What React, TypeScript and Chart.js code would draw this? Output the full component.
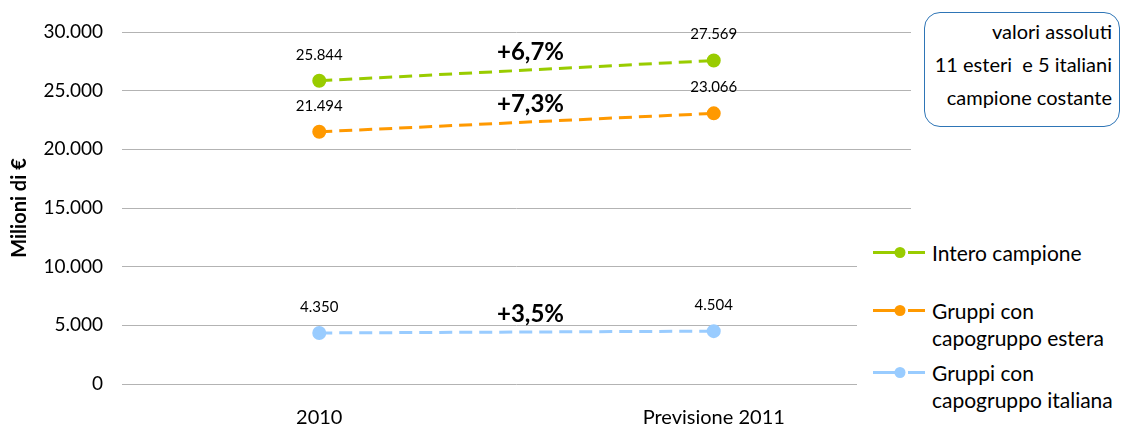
import React, { useEffect, useRef } from "react";
import { Chart, registerables } from "chart.js";

Chart.register(...registerables);

const categories = ["2010", "Previsione 2011"];
const seriesNames = ["Intero campione", "Gruppi con capogruppo estera", "Gruppi con capogruppo italiana"];
const legendLines = [["Intero campione"], ["Gruppi con", "capogruppo estera"], ["Gruppi con", "capogruppo italiana"]];
const interoCampione = [25844, 27569];
const capogruppoEstera = [21494, 23066];
const capogruppoItaliana = [4350, 4504];
const growthLabels = ["+6,7%", "+7,3%", "+3,5%"];
const seriesColors = ["#99cc00", "#ff9900", "#99ccff"];
const yTicks = [0, 5000, 10000, 15000, 20000, 25000, 30000];
const boxLines = ["valori assoluti", "11 esteri  e 5 italiani", "campione costante"];

const FONT = "Lato, 'Open Sans', sans-serif";

const fmt = (n: number) => String(Math.round(n)).replace(/\B(?=(\d{3})+(?!\d))/g, ".");

const labelPlugin = {
  id: "labelPlugin",
  afterDatasetsDraw(chart: any) {
    const ctx = chart.ctx;
    ctx.save();
    chart.data.datasets.forEach((ds: any, i: number) => {
      const meta = chart.getDatasetMeta(i);
      const pts = meta.data;
      ctx.fillStyle = "#000";
      ctx.textAlign = "center";
      ctx.textBaseline = "middle";
      ctx.font = `15px ${FONT}`;
      pts.forEach((p: any, j: number) => {
        ctx.fillText(fmt(ds.data[j]), p.x, p.y - 26);
      });
      if (pts.length >= 2) {
        const mx = (pts[0].x + pts[1].x) / 2 + 14;
        const my = (pts[0].y + pts[1].y) / 2 - 18;
        ctx.font = `bold 24px ${FONT}`;
        ctx.fillText(growthLabels[i], mx, my);
      }
    });
    ctx.restore();
  },
};

export default function App() {
  const ref = useRef<HTMLCanvasElement>(null);
  useEffect(() => {
    if (!ref.current) return;
    const datasets = [interoCampione, capogruppoEstera, capogruppoItaliana].map((d, i) => ({
      label: seriesNames[i],
      data: d,
      borderColor: seriesColors[i],
      backgroundColor: seriesColors[i],
      pointBackgroundColor: seriesColors[i],
      pointBorderColor: seriesColors[i],
      borderWidth: 3,
      borderDash: [13, 7],
      pointRadius: 5.5,
      tension: 0,
    }));
    const chart = new Chart(ref.current, {
      type: "line",
      data: { labels: categories, datasets },
      plugins: [labelPlugin],
      options: {
        animation: false,
        responsive: false,
        maintainAspectRatio: false,
        layout: { padding: { top: 32, right: 212, left: 0, bottom: 0 } },
        plugins: { legend: { display: false }, tooltip: { enabled: false } },
        scales: {
          x: {
            offset: true,
            grid: { display: false },
            border: { display: false },
            ticks: { color: "#000", font: { family: FONT, size: 20 }, padding: 14 },
            afterFit(scale: any) {
              scale.height = 44;
            },
          },
          y: {
            min: 0,
            max: 30000,
            afterBuildTicks(scale: any) {
              scale.ticks = yTicks.map((v) => ({ value: v }));
            },
            grid: { color: "#b3b3b3", drawTicks: false, lineWidth: 1 },
            border: { display: false },
            ticks: {
              color: "#000",
              font: { family: FONT, size: 19 },
              padding: 19,
              callback: (v: any) => fmt(Number(v)),
            },
            title: {
              display: true,
              text: "Milioni di €",
              color: "#000",
              font: { family: FONT, size: 20, weight: "bold" },
              padding: { top: 8, bottom: 0 },
            },
            afterFit(scale: any) {
              scale.width = 122;
            },
          },
        },
      },
    });
    return () => chart.destroy();
  }, []);

  return (
    <div style={{ position: "fixed", left: 0, top: 0, width: 1123, height: 428, background: "#fff", fontFamily: FONT }}>
      <canvas ref={ref} width={1123} height={428} style={{ position: "absolute", left: 0, top: 0 }} />
      <div
        style={{
          position: "absolute",
          left: 924,
          top: 12,
          width: 196,
          height: 115,
          border: "1.5px solid #2e75b6",
          borderRadius: 16,
          boxSizing: "border-box",
          textAlign: "right",
          paddingRight: 7,
          paddingTop: 2,
          fontSize: 20,
          lineHeight: "33px",
          color: "#000",
          background: "#fff",
        }}
      >
        {boxLines.map((l, i) => (
          <div key={i} style={{ whiteSpace: "pre" }}>{l}</div>
        ))}
      </div>
      <div style={{ position: "absolute", left: 857, top: 236, width: 266, height: 192, background: "#fff" }}>
        {legendLines.map((lines, i) => (
          <div key={i} style={{ position: "absolute", left: 0, top: [2.5, 60.5, 122.5][i], height: 60 }}>
            <svg width={75} height={27} style={{ position: "absolute", left: 10, top: 0 }}>
              <line x1={6} y1={13.5} x2={38} y2={13.5} stroke={seriesColors[i]} strokeWidth={3} />
              <line x1={41} y1={13.5} x2={58} y2={13.5} stroke={seriesColors[i]} strokeWidth={3} />
              <circle cx={33} cy={13.5} r={5.5} fill={seriesColors[i]} />
            </svg>
            <div style={{ position: "absolute", left: 75, top: 0, fontSize: 21, lineHeight: "27px", whiteSpace: "nowrap", color: "#000" }}>
              {lines.map((t, k) => (
                <div key={k}>{t}</div>
              ))}
            </div>
          </div>
        ))}
      </div>
    </div>
  );
}
